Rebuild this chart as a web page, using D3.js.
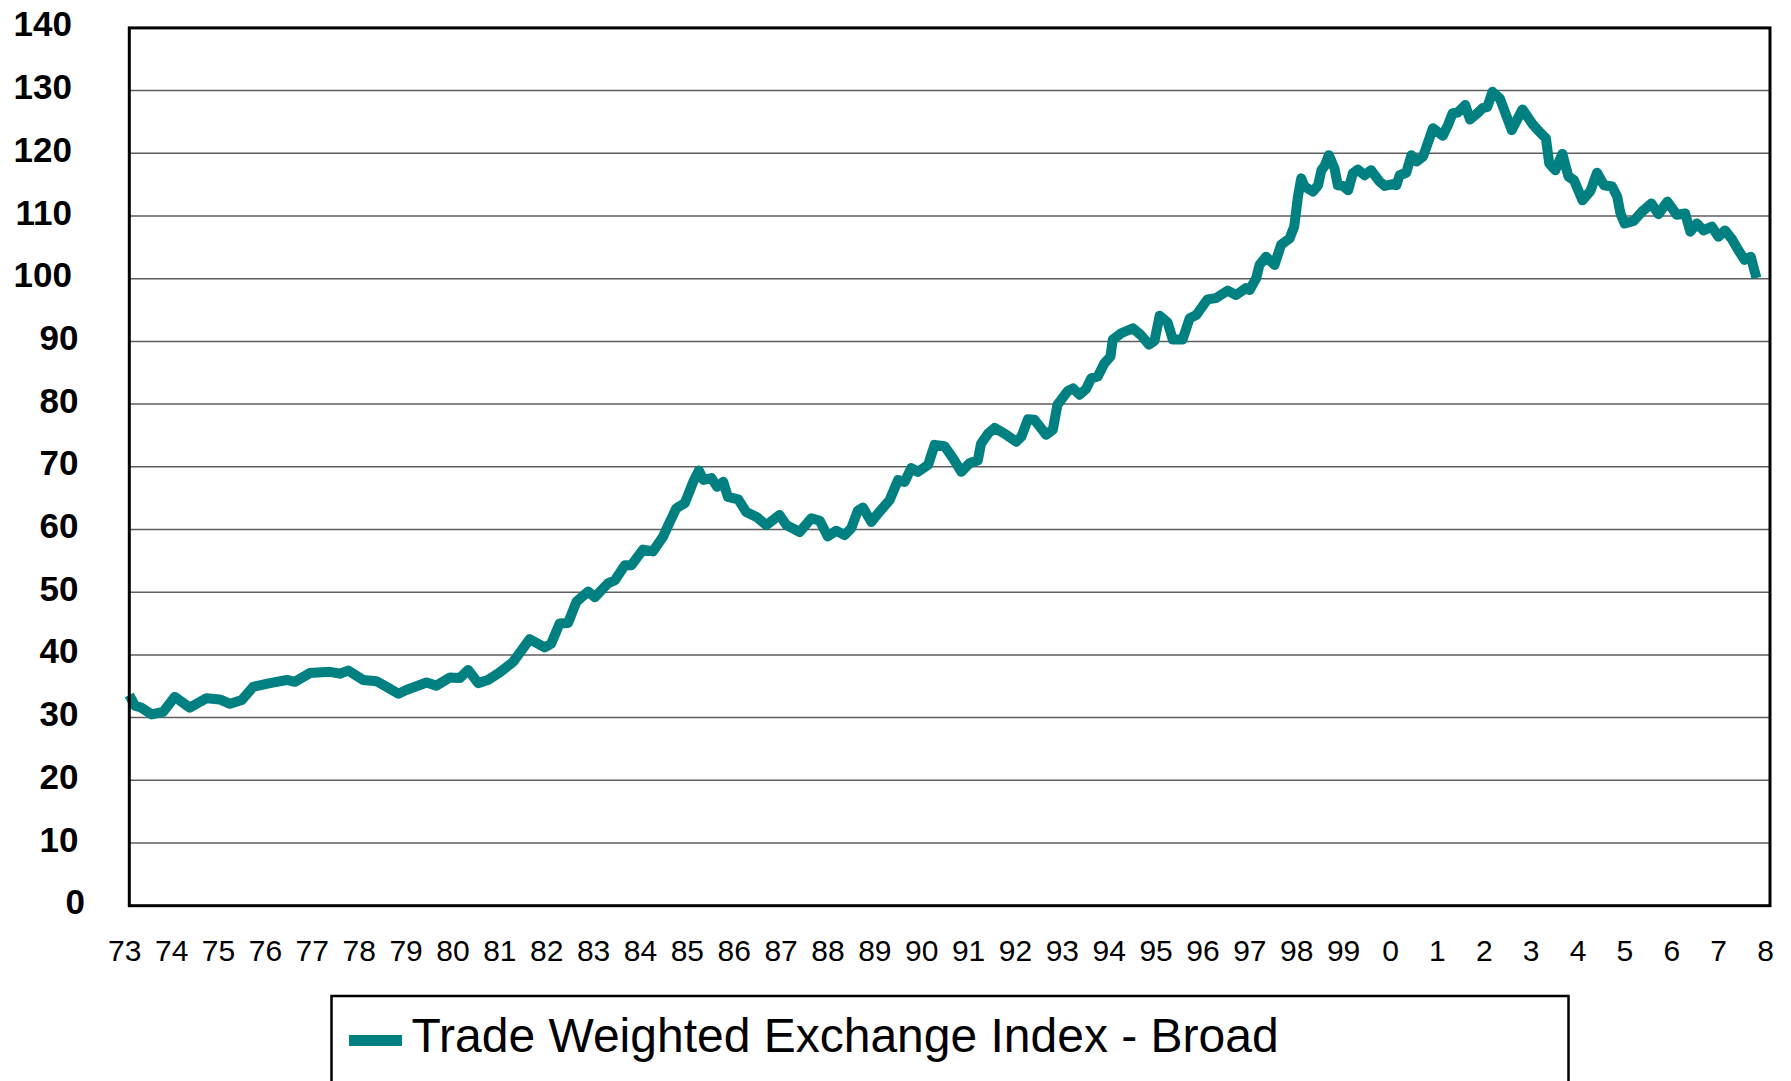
<!DOCTYPE html>
<html><head><meta charset="utf-8">
<script src="https://cdn.jsdelivr.net/npm/d3@7"></script>
<style>body{margin:0;background:#fff} svg{display:block}</style>
</head><body>
<svg id="chart" width="1791" height="1081"></svg>
<script>
// ---- data ----
const seriesName = "Trade Weighted Exchange Index - Broad";
const dates = [
1973.00,1973.12,1973.25,1973.48,1973.72,1973.97,1974.29,1974.65,1974.93,1975.15,
1975.40,1975.64,1976.00,1976.36,1976.53,1976.85,1977.28,1977.49,1977.67,1977.99,
1978.27,1978.49,1978.74,1978.91,1979.34,1979.55,1979.84,1980.05,1980.23,1980.44,
1980.65,1980.90,1981.19,1981.54,1981.86,1982.00,1982.18,1982.36,1982.54,1982.79,
1982.93,1983.21,1983.36,1983.57,1983.71,1983.96,1984.17,1984.39,1984.51,1984.67,
1984.85,1985.03,1985.15,1985.25,1985.42,1985.54,1985.67,1985.77,1985.99,1986.16,
1986.38,1986.59,1986.87,1987.02,1987.30,1987.55,1987.73,1987.90,1988.08,1988.26,
1988.40,1988.54,1988.65,1988.83,1989.00,1989.22,1989.40,1989.54,1989.68,1989.82,
1990.04,1990.18,1990.39,1990.57,1990.75,1990.93,1991.10,1991.17,1991.32,1991.46,
1991.67,1991.92,1992.03,1992.17,1992.31,1992.56,1992.70,1992.80,1993.02,1993.13,
1993.27,1993.41,1993.52,1993.66,1993.80,1993.93,1993.98,1994.16,1994.41,1994.58,
1994.75,1994.87,1994.98,1995.15,1995.26,1995.47,1995.62,1995.76,1996.00,1996.18,
1996.43,1996.61,1996.82,1996.90,1997.04,1997.11,1997.25,1997.43,1997.57,1997.75,
1997.85,1997.93,1998.00,1998.07,1998.25,1998.36,1998.43,1998.50,1998.59,1998.71,
1998.78,1998.89,1999.00,1999.10,1999.21,1999.35,1999.49,1999.67,1999.78,1999.96,
2000.03,2000.10,2000.24,2000.35,2000.46,2000.60,2000.68,2000.81,2001.02,2001.13,
2001.23,2001.34,2001.50,2001.60,2001.76,2001.87,2001.97,2002.08,2002.24,2002.49,
2002.72,2002.93,2003.06,2003.22,2003.29,2003.42,2003.57,2003.70,2003.82,2004.00,
2004.17,2004.31,2004.46,2004.63,2004.74,2004.81,2004.90,2005.09,2005.27,2005.47,
2005.62,2005.81,2006.01,2006.19,2006.30,2006.44,2006.58,2006.76,2006.90,2007.04,
2007.18,2007.32,2007.46,2007.59,2007.71
];
const values = [
33.6,31.9,31.6,30.5,30.9,33.3,31.6,33.1,32.9,32.2,
32.8,34.9,35.5,36.0,35.7,37.1,37.3,37.0,37.5,36.0,
35.8,34.9,33.8,34.4,35.6,35.1,36.4,36.3,37.6,35.5,
36.0,37.2,38.9,42.5,41.2,41.8,45.0,45.1,48.5,50.1,
49.2,51.4,51.9,54.3,54.3,56.8,56.5,58.9,60.9,63.4,
64.2,67.6,69.4,67.9,68.2,66.8,67.6,65.2,64.8,62.8,
62.0,60.7,62.3,60.7,59.6,61.8,61.4,58.9,59.8,59.1,
60.2,63.0,63.5,61.2,62.8,64.7,67.9,67.6,69.8,69.2,
70.3,73.5,73.3,71.4,69.2,70.6,71.0,73.7,75.3,76.2,
75.3,74.0,74.8,77.6,77.5,75.1,75.9,79.9,82.1,82.5,
81.5,82.4,84.1,84.4,86.5,87.6,90.3,91.3,92.1,91.0,
89.5,90.1,94.1,93.0,90.3,90.3,93.7,94.2,96.7,96.9,
98.1,97.4,98.5,98.2,100.1,102.2,103.5,102.2,105.4,106.4,
108.3,113.1,116.0,114.7,113.9,114.9,117.3,118.0,119.7,117.6,
114.9,114.8,114.1,116.8,117.4,116.5,117.3,115.5,114.8,115.1,
114.9,116.5,116.9,119.7,118.7,119.5,121.2,124.0,122.8,124.5,
126.4,126.5,127.7,125.4,126.4,127.2,127.4,129.8,128.7,123.7,
127.0,124.7,123.6,122.4,118.4,117.3,119.9,116.3,115.7,112.5,
114.0,116.9,114.9,114.7,113.1,110.4,108.8,109.2,110.7,112.0,
110.3,112.3,110.2,110.4,107.5,108.8,107.7,108.3,106.7,107.7,
106.4,104.6,103.0,103.5,100.1
];
const tickYears = d3.range(1973, 2009);
const yearLabels = ["73","74","75","76","77","78","79","80","81","82","83","84","85","86","87","88","89","90","91","92","93","94","95","96","97","98","99","0","1","2","3","4","5","6","7","8"];
const yTicks = [0,10,20,30,40,50,60,70,80,90,100,110,120,130,140];

// ---- layout ----
const FONT = "'Liberation Sans', Arial, Helvetica, sans-serif";
const L = 129.3, R = 1770, T = 27.9, B = 905.7;
const teal = "#008080";

const svg = d3.select("#chart");
svg.append("rect").attr("width",1791).attr("height",1081).attr("fill","#fff");

const x = d3.scaleLinear().domain([1973, 2008]).range([L, R]);
const y = d3.scaleLinear().domain([0, 140]).range([B, T]);

// gridlines
svg.append("g").selectAll("line").data(yTicks.filter(v => v > 0 && v < 140)).join("line")
  .attr("x1", L).attr("x2", R).attr("y1", d => y(d)).attr("y2", d => y(d))
  .attr("stroke", "#5e5e5e").attr("stroke-width", 1.5);

// data line
const pts = dates.map((d,i) => [d, values[i]]);
svg.append("path").datum(pts)
  .attr("fill","none").attr("stroke", teal).attr("stroke-width", 10)
  .attr("stroke-linejoin","round").attr("stroke-linecap","butt")
  .attr("d", d3.line().x(d => x(d[0])).y(d => y(d[1])));

// plot frame
svg.append("rect").attr("x", L).attr("y", T).attr("width", R - L).attr("height", B - T)
  .attr("fill","none").attr("stroke","#000").attr("stroke-width", 3);

// y axis labels
const yAxis = svg.append("g").attr("transform", `translate(${L},0)`)
  .call(d3.axisLeft(y).tickValues(yTicks).tickSize(0).tickFormat(d3.format("d")));
yAxis.select(".domain").remove();
yAxis.selectAll("text")
  .attr("font-family", FONT).attr("font-size", 35).attr("font-weight","bold").attr("fill","#000")
  .attr("text-anchor","end").attr("dy","0.23em")
  .attr("x", function(d){ const n = String(d).length; return -(L - (85 - 6.5*(n-1))); });

// x axis labels
const xAxis = svg.append("g").attr("transform", `translate(-5,${B})`)
  .call(d3.axisBottom(x).tickValues(tickYears).tickSize(0).tickPadding(34)
        .tickFormat((d,i) => yearLabels[i]));
xAxis.select(".domain").remove();
xAxis.selectAll("text").attr("font-family", FONT).attr("font-size", 30).attr("fill","#000");

// legend
const lg = svg.append("g");
lg.append("rect").attr("x", 331.5).attr("y", 996).attr("width", 1237).attr("height", 140)
  .attr("fill","#fff").attr("stroke","#000").attr("stroke-width", 2.5);
lg.append("line").attr("x1", 349).attr("x2", 402).attr("y1", 1040.5).attr("y2", 1040.5)
  .attr("stroke", teal).attr("stroke-width", 11);
lg.append("text").attr("x", 411.5).attr("y", 1051.7)
  .attr("font-family", FONT).attr("font-size", 48).attr("fill","#000").text(seriesName);
</script>
</body></html>
